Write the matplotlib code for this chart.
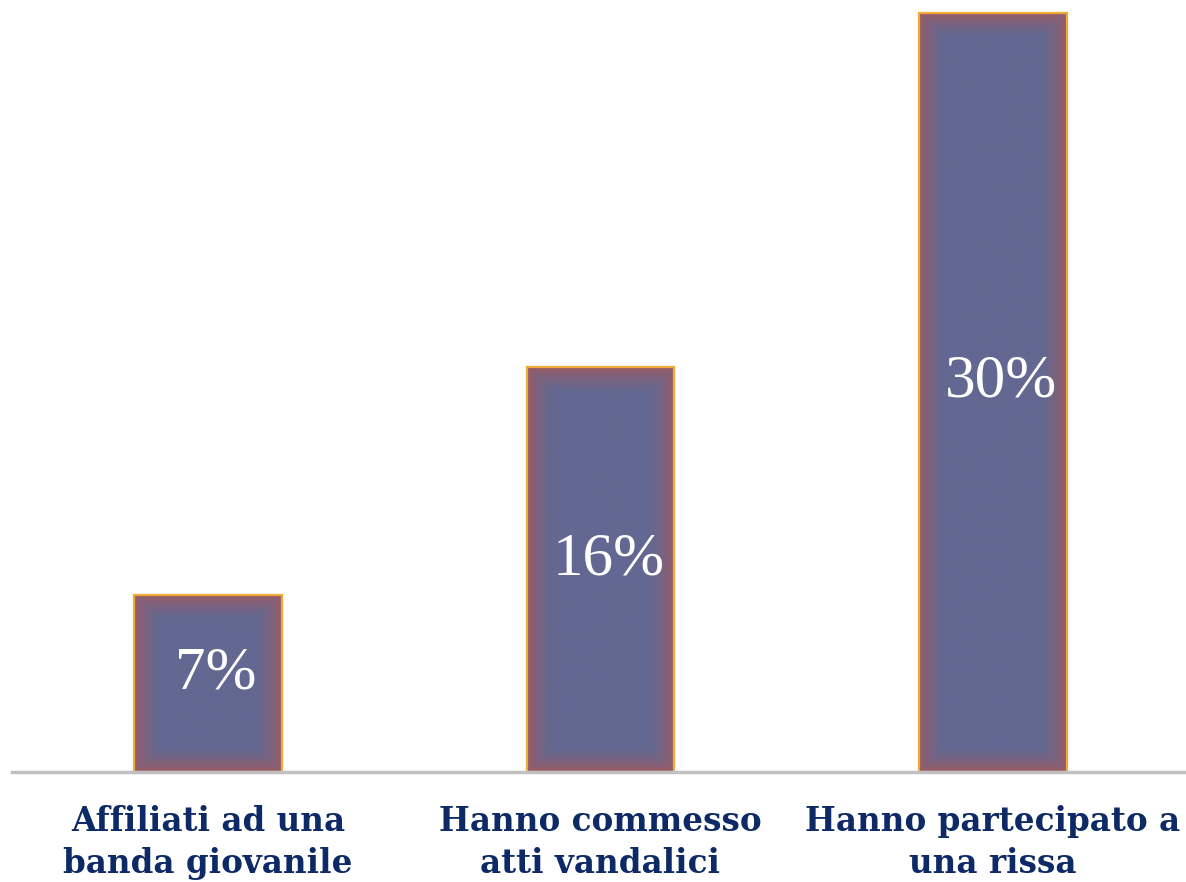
import numpy as np
import matplotlib
matplotlib.use("Agg")
from matplotlib import pyplot as plt

categories = ["Affiliati ad una\nbanda giovanile",
              "Hanno commesso\natti vandalici",
              "Hanno partecipato a\nuna rissa"]
values = [7, 16, 30]
labels = ["7%", "16%", "30%"]

fig = plt.figure(figsize=(11.86, 8.82), dpi=100)
ax = fig.add_axes([12 / 1186, 110 / 882, 1177 / 1186, 772 / 882])
ax.set_xlim(-0.5, 2.5)
ax.set_ylim(0, 30.5)

bar_w = 0.377
inner = np.array([0x62, 0x68, 0x91]) / 255
edge = np.array([0xa0, 0x5a, 0x62]) / 255
px_per_x = 1177 / 3
px_per_y = 772 / 30.5

bars = ax.bar(range(3), values, width=bar_w, color="none",
              edgecolor="#f0aa35", linewidth=1.6, zorder=3)

# inner glow: reddish edge fading into the blue fill
for b in bars:
    x0, w, h = b.get_x(), b.get_width(), b.get_height()
    nx = int(w * px_per_x)
    ny = int(h * px_per_y)
    xx = np.arange(nx) + 0.5
    yy = np.arange(ny) + 0.5
    dx = np.minimum(xx, nx - xx)[None, :]
    dy = np.minimum(yy, ny - yy)[:, None]
    d = np.minimum(dx, dy)
    t = np.clip(d / 24.0, 0, 1) ** 0.7
    img = edge[None, None, :] * (1 - t[..., None]) + inner[None, None, :] * t[..., None]
    ax.imshow(img, extent=(x0, x0 + w, 0, h), aspect="auto",
              interpolation="bilinear", zorder=2)

for i, (v, lab) in enumerate(zip(values, labels)):
    ax.text(i + 0.02, v * 0.5 + 0.4, lab, color="white", fontsize=44,
            family="Liberation Serif", ha="center", va="center", zorder=4)

ax.set_xlim(-0.5, 2.5)
ax.set_ylim(0, 30.5)
ax.axhline(0, color="#c0c0c0", linewidth=2.5, zorder=4, clip_on=False)
for s in ax.spines.values():
    s.set_visible(False)
ax.set_yticks([])
ax.set_xticks(range(3))
ax.set_xticklabels(categories, fontsize=23.5, fontweight="bold",
                   family="DejaVu Serif", color="#0d2a66", linespacing=1.35)
ax.tick_params(axis="x", length=0, pad=24)

fig.savefig("out.png", dpi=100)
